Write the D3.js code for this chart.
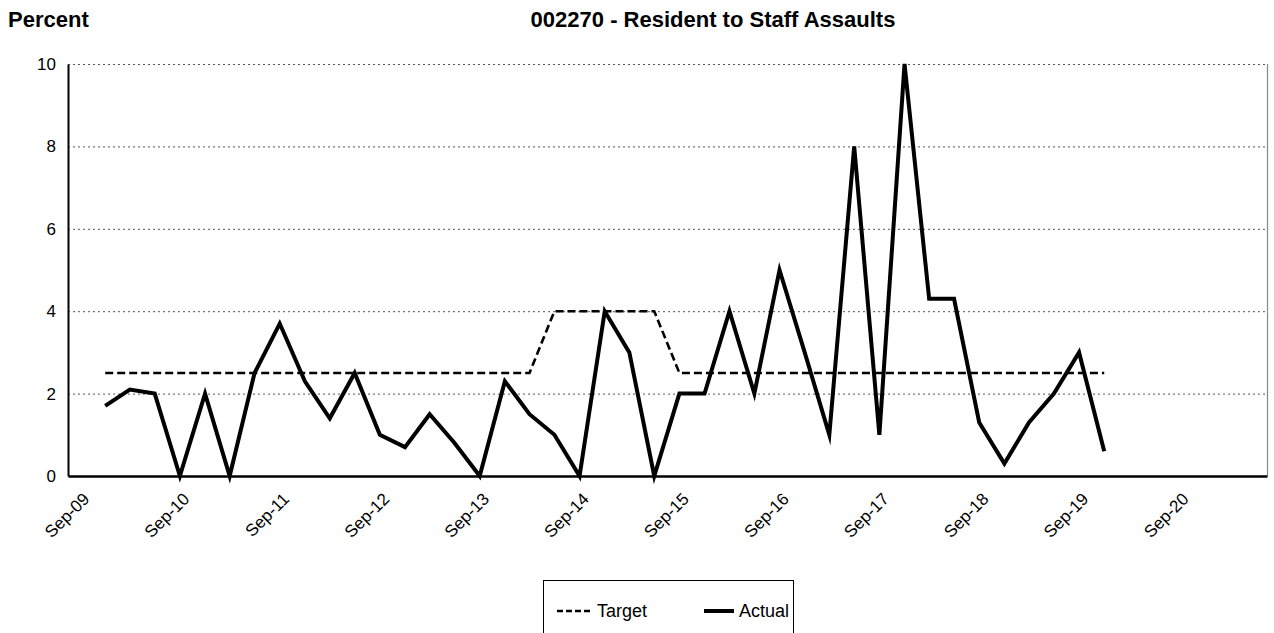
<!DOCTYPE html>
<html>
<head>
<meta charset="utf-8">
<script src="https://cdn.jsdelivr.net/npm/d3@7"></script>
<style>
  html, body { margin: 0; padding: 0; background: #fff; }
  svg { display: block; font-family: Arial, "Liberation Sans", sans-serif; }
</style>
</head>
<body>
<svg id="chart" width="1274" height="633"></svg>
<script>
// ---- data ----
const startPeriod = "2010-01-15";           // first quarterly observation
const actual = [1.7, 2.1, 2.0, 0, 2.0, 0, 2.5, 3.7, 2.3, 1.4, 2.5, 1.0, 0.7, 1.5, 0.8, 0,
                2.3, 1.5, 1.0, 0, 4.0, 3.0, 0, 2.0, 2.0, 4.0, 2.0, 5.0, 3.0, 1.0, 8.0, 1.0,
                10.0, 4.3, 4.3, 1.3, 0.3, 1.3, 2.0, 3.0, 0.6];
const target = [2.5, 2.5, 2.5, 2.5, 2.5, 2.5, 2.5, 2.5, 2.5, 2.5, 2.5, 2.5, 2.5, 2.5, 2.5, 2.5,
                2.5, 2.5, 4.0, 4.0, 4.0, 4.0, 4.0, 2.5, 2.5, 2.5, 2.5, 2.5, 2.5, 2.5, 2.5, 2.5,
                2.5, 2.5, 2.5, 2.5, 2.5, 2.5, 2.5, 2.5, 2.5];
const xTickDates = ["2009-09-01","2010-09-01","2011-09-01","2012-09-01","2013-09-01","2014-09-01",
                    "2015-09-01","2016-09-01","2017-09-01","2018-09-01","2019-09-01","2020-09-01"];
const xDomain = ["2009-09-01", "2021-09-01"];
const yTicks = [0, 2, 4, 6, 8, 10];
const title = "002270 - Resident to Staff Assaults";
const yTitle = "Percent";
const legendLabels = ["Target", "Actual"];

// ---- layout ----
const parse = d3.utcParse("%Y-%m-%d");
const fmt = d3.utcFormat("%b-%y");
const periods = actual.map((_, i) => d3.utcMonth.offset(parse(startPeriod), 3 * i));

const L = 68, R = 1267, T = 64, B = 476;
const FONT = "Arial, 'Liberation Sans', sans-serif";
const svg = d3.select("#chart");

const x = d3.scaleUtc().domain(xDomain.map(parse)).range([L, R]);
const y = d3.scaleLinear().domain([0, 10]).range([B, T]);

// gridlines (dotted)
svg.append("g").selectAll("line").data(yTicks.filter(d => d > 0)).join("line")
  .attr("x1", L).attr("x2", R)
  .attr("y1", d => y(d) + 0.5).attr("y2", d => y(d) + 0.5)
  .attr("stroke", "#555").attr("stroke-width", 1).attr("stroke-dasharray", "2,3");

// right border
svg.append("line").attr("x1", R + 0.5).attr("x2", R + 0.5).attr("y1", T).attr("y2", B)
  .attr("stroke", "#888").attr("stroke-width", 1.2);

// y axis
const yAxis = d3.axisLeft(y).tickValues(yTicks).tickSize(0).tickPadding(12).tickFormat(d3.format("d"));
const gy = svg.append("g").attr("transform", `translate(${L},0)`).call(yAxis);
gy.select(".domain").attr("stroke", "#000").attr("stroke-width", 2);
gy.selectAll("text").attr("font-size", 17).attr("fill", "#000").attr("font-family", FONT);

// x axis
const xAxis = d3.axisBottom(x).tickValues(xTickDates.map(parse)).tickSize(0).tickFormat(fmt);
const gx = svg.append("g").attr("transform", `translate(0,${B})`).call(xAxis);
gx.select(".domain").attr("stroke", "#000").attr("stroke-width", 2.5);
gx.selectAll("text")
  .attr("font-size", 17).attr("fill", "#000").attr("font-family", FONT)
  .attr("text-anchor", "end")
  .attr("dy", null).attr("y", 0)
  .attr("transform", "translate(22,24) rotate(-45)");

// lines
const line = vals => d3.line().x((d, i) => x(periods[i])).y(d => y(d))(vals);
svg.append("path").attr("d", line(target)).attr("fill", "none")
  .attr("stroke", "#000").attr("stroke-width", 2.6).attr("stroke-dasharray", "8,4");
svg.append("path").attr("d", line(actual)).attr("fill", "none")
  .attr("stroke", "#000").attr("stroke-width", 4).attr("stroke-linejoin", "miter").attr("stroke-miterlimit", 10);

// titles
svg.append("text").attr("x", 8).attr("y", 27).attr("font-size", 22).attr("font-weight", "bold")
  .attr("font-family", FONT).text(yTitle);
svg.append("text").attr("x", 713).attr("y", 27).attr("text-anchor", "middle")
  .attr("font-size", 22).attr("font-weight", "bold").attr("font-family", FONT).text(title);

// legend
const lg = svg.append("g");
lg.append("rect").attr("x", 543.5).attr("y", 580.5).attr("width", 250).attr("height", 70)
  .attr("fill", "#fff").attr("stroke", "#000").attr("stroke-width", 1);
lg.append("line").attr("x1", 557).attr("x2", 592).attr("y1", 611).attr("y2", 611)
  .attr("stroke", "#000").attr("stroke-width", 2.6).attr("stroke-dasharray", "6,3");
lg.append("text").attr("x", 597).attr("y", 617).attr("font-size", 18).attr("font-family", FONT).text(legendLabels[0]);
lg.append("line").attr("x1", 704).attr("x2", 734).attr("y1", 611).attr("y2", 611)
  .attr("stroke", "#000").attr("stroke-width", 4);
lg.append("text").attr("x", 739).attr("y", 617).attr("font-size", 18).attr("font-family", FONT).text(legendLabels[1]);
</script>
</body>
</html>
